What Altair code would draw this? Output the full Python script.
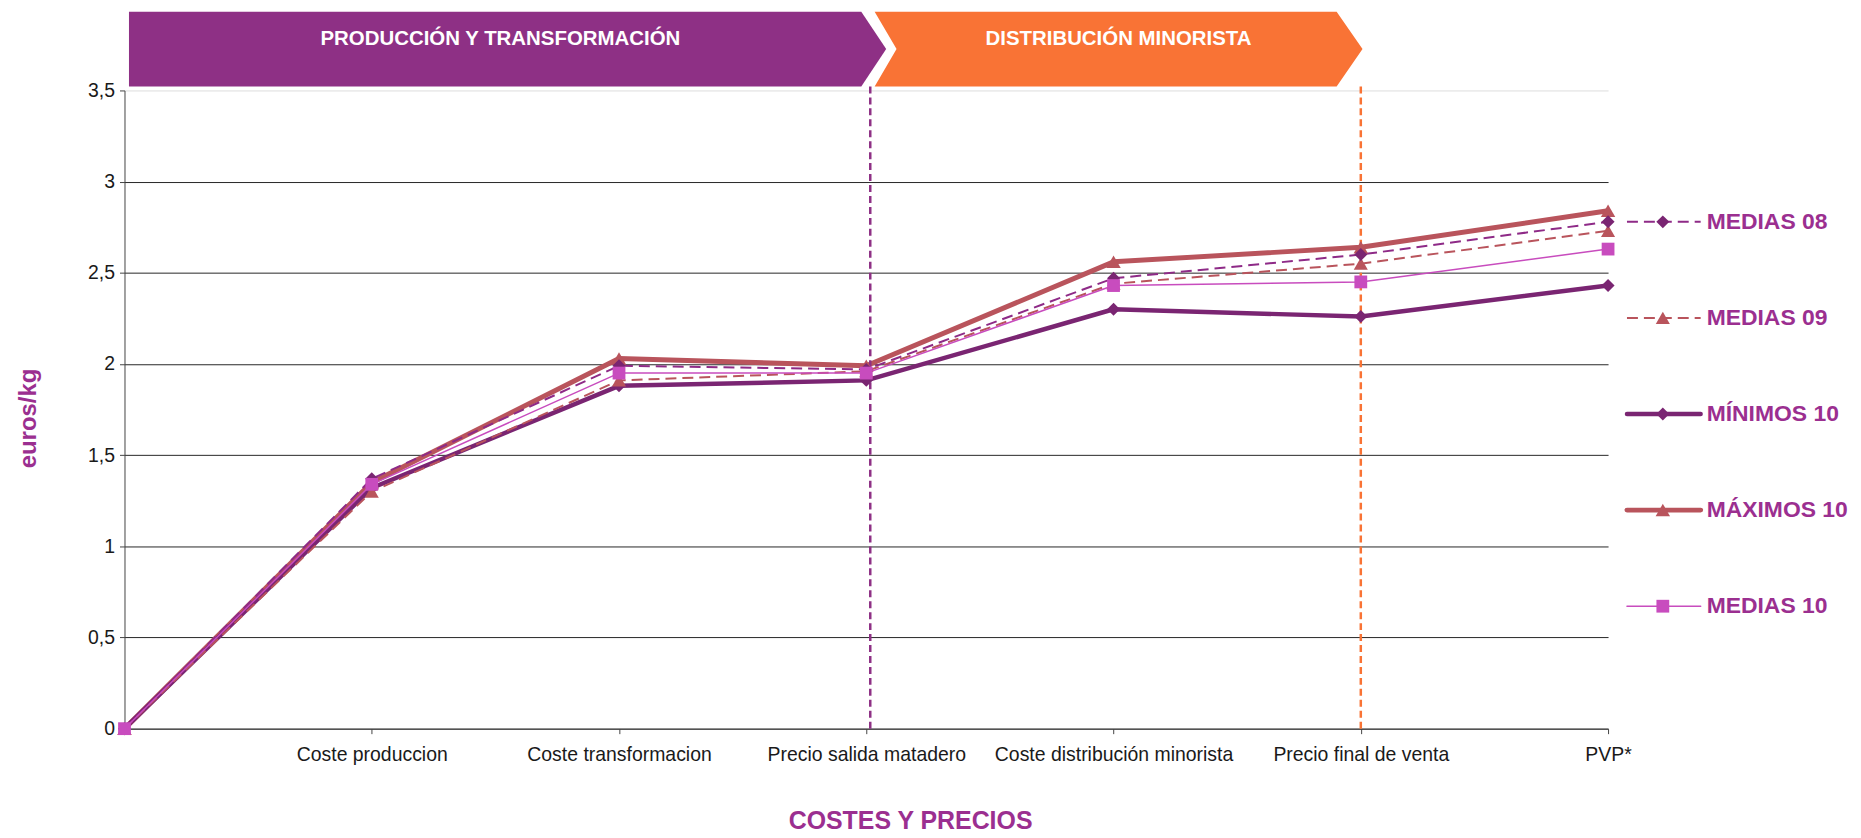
import json
import altair as alt
import pandas as pd

# ---------------- data ----------------
categories = ["", "Coste produccion", "Coste transformacion", "Precio salida matadero",
              "Coste distribución minorista", "Precio final de venta", "PVP*"]
series_names = ["MEDIAS 08", "MEDIAS 09", "MÍNIMOS 10", "MÁXIMOS 10", "MEDIAS 10"]
medias_08 = [0, 1.37, 1.99, 1.97, 2.47, 2.60, 2.78]
medias_09 = [0, 1.30, 1.91, 1.96, 2.44, 2.55, 2.73]
minimos_10 = [0, 1.32, 1.88, 1.91, 2.30, 2.26, 2.43]
maximos_10 = [0, 1.35, 2.03, 1.99, 2.56, 2.64, 2.84]
medias_10 = [0, 1.34, 1.95, 1.95, 2.43, 2.45, 2.63]
y_ticks = [0, 0.5, 1, 1.5, 2, 2.5, 3, 3.5]
stage_labels = ["PRODUCCIÓN Y TRANSFORMACIÓN", "DISTRIBUCIÓN MINORISTA"]
stage_start = [0, 3]
stage_end = [3, 5]
x_title = "COSTES Y PRECIOS"
y_title = "euros/kg"

values = [medias_08, medias_09, minimos_10, maximos_10, medias_10]
rows = []
for name, vals in zip(series_names, values):
    for i, v in enumerate(vals):
        rows.append({"series": name, "idx": i, "value": v})
df = pd.DataFrame(rows)
df_stage = pd.DataFrame({"label": stage_labels, "start": stage_start, "end": stage_end,
                         "mid": [(a + b) / 2 for a, b in zip(stage_start, stage_end)]})
df_leg = pd.DataFrame({"series": series_names})

# ---------------- styles ----------------
FONT = "Liberation Sans"
TITLE_PURPLE = "#9B2F90"
W, H = 1490, 641
style = {
    "MEDIAS 08": dict(color="#8E2A87", width=2, dash=[11, 6], shape="diamond", fill="#7A2572", size=170),
    "MEDIAS 09": dict(color="#B9545C", width=2, dash=[11, 6], shape="triangle-up", fill="#B9545C", size=200),
    "MÍNIMOS 10": dict(color="#7A2572", width=4.5, dash=None, shape="diamond", fill="#7A2572", size=170),
    "MÁXIMOS 10": dict(color="#B9545C", width=5, dash=None, shape="triangle-up", fill="#B9545C", size=210),
    "MEDIAS 10": dict(color="#C84CBE", width=1.5, dash=None, shape="square", fill="#C84CBE", size=165),
}
draw_order = ["MÁXIMOS 10", "MÍNIMOS 10", "MEDIAS 09", "MEDIAS 08", "MEDIAS 10"]
stage_colors = ["#8E3085", "#F97335"]
stage_rule_offsets = [4, 0]
stage_paths = [
    "M4.5,-37.5L740,-37.5L765,0L740,37.5L4.5,37.5Z",
    "M8.4,-37.5L472.4,-37.5L498.4,0L472.4,37.5L8.4,37.5L30.4,0Z",
]

X_SCALE = alt.Scale(domain=[0, 6], nice=False, zero=False)
Y_SCALE = alt.Scale(domain=[0, 3.5], nice=False)
label_expr = "[" + ",".join(json.dumps(c, ensure_ascii=False) for c in categories) + "][datum.value]"

x_axis = alt.Axis(values=list(range(len(categories))), labelExpr=label_expr, grid=False,
                  tickSize=5, tickColor="#444444", domainColor="#444444", labelFont=FONT,
                  labelFontSize=19.5, labelColor="#1a1a1a", labelPadding=12, labelFlush=False,
                  labelOverlap=False, labelLimit=400, title=x_title, titleFont=FONT,
                  titleFontSize=25, titleFontWeight="bold", titleColor=TITLE_PURPLE,
                  titleX=789, titleY=92, titleBaseline="middle", titleAlign="center")
y_axis = alt.Axis(values=y_ticks, labelExpr="replace(toString(datum.value), '.', ',')",
                  grid=True,
                  gridColor={"condition": {"test": "datum.value >= 3.5", "value": "#dddddd"},
                             "value": "#262626"},
                  gridWidth=1, tickSize=5, tickColor="#444444", domainColor="#444444",
                  labelFont=FONT, labelFontSize=19.5, labelColor="#1a1a1a", labelPadding=5,
                  title=y_title, titleFont=FONT, titleFontSize=24, titleFontWeight="bold",
                  titleColor=TITLE_PURPLE, titleX=-96, titleY=329, titleAngle=270,
                  titleBaseline="middle", titleAlign="center")


def X(field):
    return alt.X(field, scale=X_SCALE, axis=x_axis)


def Y(field):
    return alt.Y(field, scale=Y_SCALE, axis=y_axis)


base = alt.Chart(df)
line_layers, point_layers = [], []
for name in draw_order:
    st = style[name]
    kw = dict(color=st["color"], strokeWidth=st["width"], strokeJoin="round")
    if st["dash"]:
        kw["strokeDash"] = st["dash"]
    else:
        kw["strokeCap"] = "round"
    sub = base.transform_filter(alt.datum.series == name)
    line_layers.append(sub.mark_line(**kw).encode(x=X("idx:Q"), y=Y("value:Q")))
    point_layers.append(
        sub.mark_point(shape=st["shape"], filled=True, fill=st["fill"], size=st["size"],
                       opacity=1, strokeWidth=0)
        .encode(x=X("idx:Q"), y=Y("value:Q")))

stage_base = alt.Chart(df_stage)
rule_layers, banner_layers = [], []
for lab, col, path, off in zip(stage_labels, stage_colors, stage_paths, stage_rule_offsets):
    sub = stage_base.transform_filter(alt.datum.label == lab)
    rule_layers.append(
        sub.mark_rule(color=col, strokeDash=[7, 4], strokeWidth=2.5, xOffset=off)
        .encode(x=X("end:Q"), y=alt.value(-4), y2=alt.value(H)))
    banner_layers.append(
        sub.mark_point(shape=path, size=4, filled=True, fill=col, opacity=1, strokeWidth=0)
        .encode(x=X("start:Q"), y=alt.value(-41.5)))
banner_text = stage_base.mark_text(font=FONT, fontSize=20.5, fontWeight="bold", color="white",
                                  align="center", baseline="middle", dx=5).encode(
    x=X("mid:Q"), y=alt.value(-52), text="label:N")

main = alt.layer(*line_layers, *rule_layers, *point_layers, *banner_layers, banner_text)

LEG_Y = alt.Y("series:N",
              scale=alt.Scale(type="point", domain=series_names, range=[132, 518], padding=0),
              axis=None)
leg_base = alt.Chart(df_leg)
legend_layers = []
for name in series_names:
    st = style[name]
    sub = leg_base.transform_filter(alt.datum.series == name)
    kw = dict(color=st["color"], strokeWidth=st["width"])
    if st["dash"]:
        kw["strokeDash"] = st["dash"]
    else:
        kw["strokeCap"] = "round"
    legend_layers.append(sub.mark_rule(**kw).encode(x=alt.value(1509), x2=alt.value(1583), y=LEG_Y))
    legend_layers.append(
        sub.mark_point(shape=st["shape"], filled=True, fill=st["fill"], size=st["size"],
                       opacity=1, strokeWidth=0)
        .encode(x=alt.value(1545), y=LEG_Y))
legend_layers.append(
    leg_base.mark_text(font=FONT, fontSize=23, fontWeight="bold", color=TITLE_PURPLE,
                       align="left", baseline="middle")
    .encode(x=alt.value(1589), y=LEG_Y, text="series:N"))
legend = alt.layer(*legend_layers)

chart = (alt.layer(main, legend)
         .resolve_scale(y="independent")
         .properties(width=W, height=H, padding={"left": 9, "top": 2, "right": 5, "bottom": 2},
                     background="white")
         .configure_view(stroke="transparent"))

chart.save("out.html", embed_options={"renderer": "svg", "actions": False})
